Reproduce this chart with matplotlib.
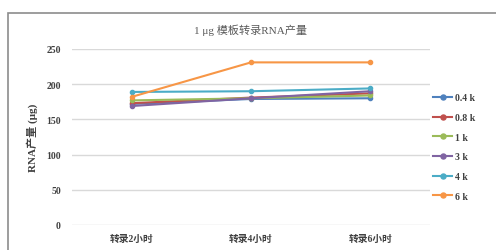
import matplotlib
matplotlib.use("Agg")
import matplotlib.pyplot as plt
from matplotlib.patches import Rectangle

plt.rcParams['font.family'] = ['Liberation Serif', 'Noto Sans CJK SC', 'DejaVu Sans']

categories = ["转录2小时", "转录4小时", "转录6小时"]
series_names = ["0.4 k", "0.8 k", "1 k", "3 k", "4 k", "6 k"]
v_04k = [172, 179, 180]
v_08k = [173, 181, 187]
v_1k = [177, 180, 184]
v_3k = [169, 180, 190]
v_4k = [189, 190, 194]
v_6k = [182, 231, 231]
values = [v_04k, v_08k, v_1k, v_3k, v_4k, v_6k]
colors = ["#4F81BD", "#C0504D", "#9BBB59", "#8064A2", "#4BACC6", "#F79646"]
yticks = [0, 50, 100, 150, 200, 250]

fig = plt.figure(figsize=(4.96, 2.51), dpi=100)
fig.patches.append(Rectangle((8/496, -0.05), 1.0, 1 - 14/251 + 0.05, transform=fig.transFigure,
                             fill=False, edgecolor="#8c8c8c", linewidth=1.2))

ax = fig.add_axes([72/496, 1 - 226/251, 358/496, 176/251])
x = list(range(len(categories)))
for name, vals, c in zip(series_names, values, colors):
    ax.plot(x, vals, color=c, linewidth=1.5, marker='o', markersize=3, label=name)

ax.set_xlim(-0.5, 2.5)
ax.set_ylim(0, 250)
ax.set_yticks(yticks)
ax.set_yticklabels([str(t) for t in yticks], fontsize=7, fontweight='bold', color="#404040")
ax.set_xticks(x)
ax.set_xticklabels(categories, fontsize=7, fontweight='bold', color="#404040")
ax.tick_params(length=0, pad=8)
ax.tick_params(axis='x', pad=6)
ax.grid(axis='y', color="#d9d9d9", linewidth=1)
ax.set_axisbelow(True)
for s in ax.spines.values():
    s.set_visible(False)

ax.set_ylabel("RNA产量 (μg)", fontsize=8, fontweight='bold', color="#404040", labelpad=6)
fig.text(250/496, 1 - 30/251, "1 μg 模板转录RNA产量", ha='center', va='center', fontsize=8, color="#595959")

leg = ax.legend(loc='center left', frameon=False, handlelength=2.0, labelspacing=1.1,
                borderaxespad=0, borderpad=0, prop={'weight': 'bold', 'size': 7},
                handletextpad=0.3, markerscale=1.2)
leg.set_bbox_to_anchor((433/496, 1 - 148/251), transform=fig.transFigure)
for t in leg.get_texts():
    t.set_color("#404040")

fig.savefig("out.png", dpi=100)
